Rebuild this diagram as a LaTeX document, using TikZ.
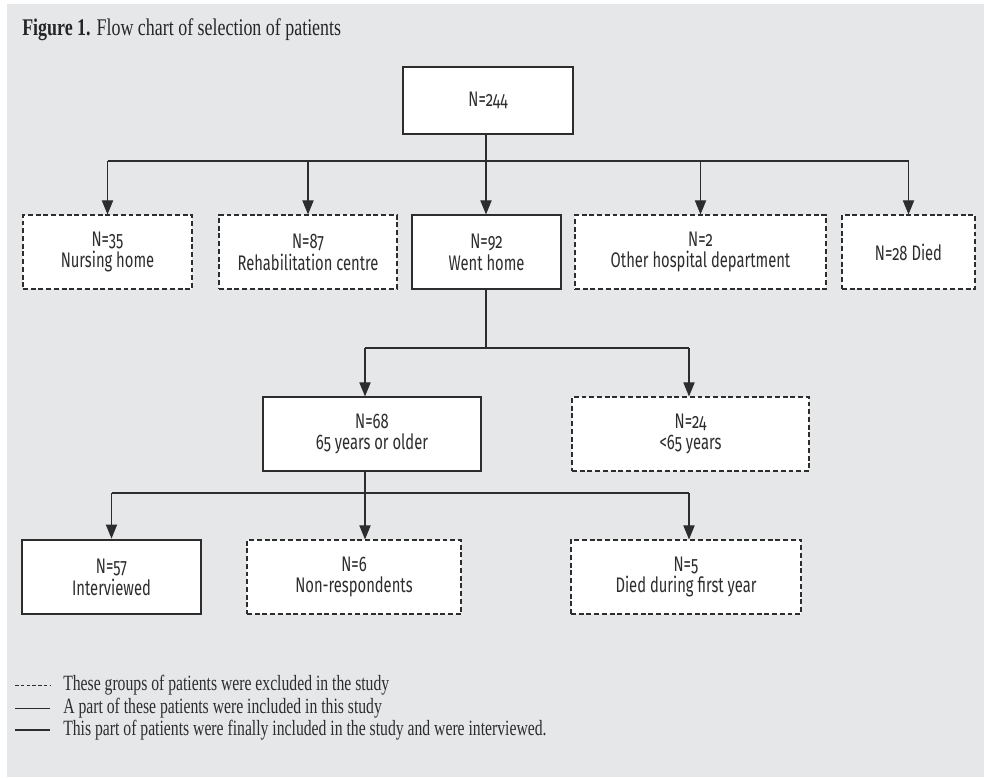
\documentclass[tikz,border=0pt]{standalone}
\usepackage{fontspec}
\setmainfont{Liberation Serif}[FakeStretch=0.72]
\newfontfamily\boxfont{Fira Sans}[Numbers=OldStyle,FakeStretch=0.7]
\newfontfamily\titlefont{Liberation Serif}[FakeStretch=0.75]
\usetikzlibrary{shapes,arrows.meta}
\definecolor{bggray}{RGB}{230,231,233}
\definecolor{inkgray}{RGB}{45,45,45}
\tikzset{
  box/.style={draw=inkgray, fill=white, line width=0.8pt, align=center,
    font=\boxfont\fontsize{15}{15.5}\selectfont, text=inkgray,
    minimum height=1.85cm, inner sep=2pt},
  exclbox/.style={box, dash pattern=on 3.5pt off 2pt},
  finalbox/.style={box, line width=2pt},
  arr/.style={draw=inkgray, line width=0.8pt, -{Triangle[length=10pt,width=8pt]}},
  link/.style={draw=inkgray, line width=0.8pt},
  legtext/.style={anchor=west, inner sep=0pt, text=inkgray,
    font=\fontsize{15.5}{16}\selectfont},
}

\begin{document}
\begin{tikzpicture}[x=0.025cm,y=-0.025cm]
        % 背景
        \useasboundingbox (0,0) rectangle (984,777);
        \fill[bggray] (7,4) rectangle (984,777);

        % 标题
        \node[anchor=base west, inner sep=0pt, text=black!85,
          font=\titlefont\fontsize{17}{19}\selectfont] (title) at (22,35)
          {\textbf{Figure 1.} Flow chart of selection of patients};

        % 第一层
        \node[box, minimum width=4.25cm, minimum height=1.675cm] (all) at (488,100.5) {N=244};

        % 第二层
        \node[exclbox, minimum width=4.225cm] (nursing) at (107.5,252) {N=35\\Nursing home};
        \node[exclbox, minimum width=4.45cm] (rehab) at (308,252) {N=87\\Rehabilitation centre};
        \node[box, minimum width=3.725cm] (home) at (486.5,252) {N=92\\Went home};
        \node[exclbox, minimum width=6.275cm] (otherdep) at (700.5,252) {N=2\\Other hospital department};
        \node[exclbox, minimum width=3.325cm] (died) at (908.5,252) {N=28 Died};

        % 第三层
        \node[box, minimum width=5.45cm] (older) at (372,434) {N=68\\65 years or older};
        \node[exclbox, minimum width=5.925cm] (younger) at (690.5,434) {N=24\\<65 years};

        % 第四层
        \node[finalbox, minimum width=4.475cm] (interv) at (111.5,577) {N=57\\Interviewed};
        \node[exclbox, minimum width=5.35cm] (nonresp) at (354,577) {N=6\\Non-respondents};
        \node[exclbox, minimum width=5.75cm] (diedyear) at (686,577) {N=5\\Died during first year};

        % 分叉点
        \coordinate (split1) at (486,161);
        \coordinate (split2) at (365,348);
        \coordinate (split3) at (689,493);

        % 连线
        \draw[link] (all.south -| split1) -- (split1);
        \draw[link] (nursing.north |- split1) -- (died.north |- split1);
        \foreach \n in {nursing,rehab,otherdep,died}
          \draw[arr] (\n.north |- split1) -- (\n.north);
        \draw[arr] (split1) -- (home.north -| split1);

        \draw[link] (home.south -| split1) -- (split1 |- split2);
        \draw[link] (split2) -- (split3 |- split2);
        \draw[arr] (split2) -- (older.north -| split2);
        \draw[arr] (split3 |- split2) -- (younger.north -| split3);

        \draw[link] (older.south -| split2) -- (split2 |- split3);
        \draw[link] (interv.north |- split3) -- (split3);
        \draw[arr] (interv.north |- split3) -- (interv.north);
        \draw[arr] (split2 |- split3) -- (nonresp.north -| split2);
        \draw[arr] (split3) -- (diedyear.north -| split3);

        % 图例
        \node[legtext] (leg1) at (63,685) {These groups of patients were excluded in the study};
        \node[legtext] (leg2) at (63,708) {A part of these patients were included in this study};
        \node[legtext] (leg3) at (63,730) {This part of patients were finally included in the study and were interviewed.};
        \draw[inkgray, line width=0.6pt, dash pattern=on 2.5pt off 1.6pt] (15,685) -- (50,685);
        \draw[inkgray, line width=0.6pt] (15,708) -- (50,708);
        \draw[inkgray, line width=2pt] (15,730) -- (50,730);
\end{tikzpicture}
\end{document}
